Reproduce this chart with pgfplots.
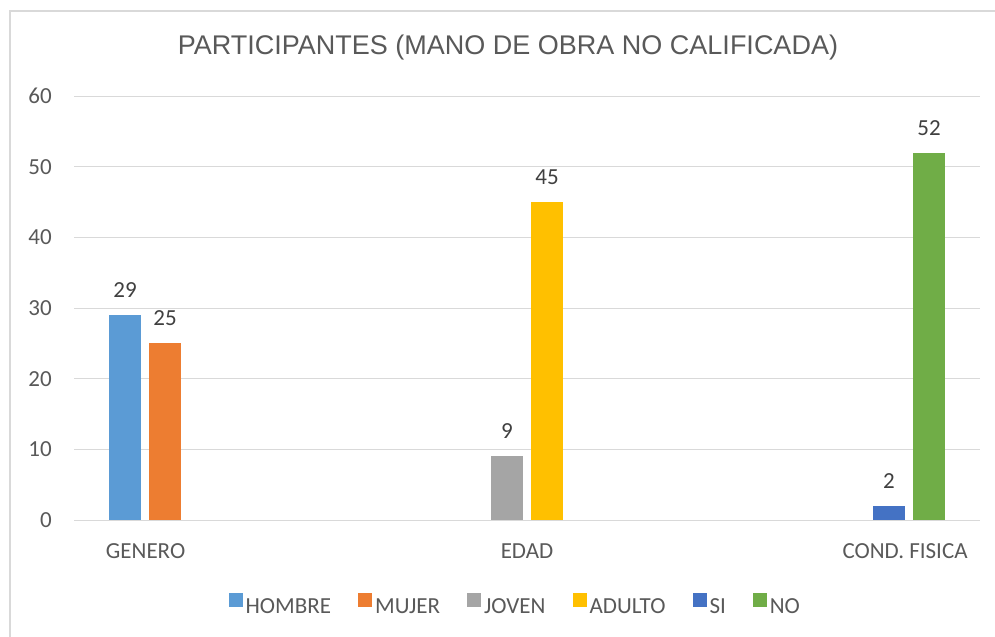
\documentclass[border=0pt]{standalone}
\usepackage{fontspec}
\setmainfont{Carlito}
\newfontfamily\titlefont{Liberation Sans}
\usepackage{pgfplots}
\pgfplotsset{compat=1.18}
\definecolor{cHom}{HTML}{5B9BD5}
\definecolor{cMuj}{HTML}{ED7D31}
\definecolor{cJov}{HTML}{A5A5A5}
\definecolor{cAdu}{HTML}{FFC000}
\definecolor{cSi}{HTML}{4472C4}
\definecolor{cNo}{HTML}{70AD47}
\definecolor{gridc}{HTML}{D9D9D9}
\definecolor{tickc}{HTML}{595959}
\definecolor{labc}{HTML}{404040}
\newcommand{\tf}{\fontsize{23bp}{27bp}\selectfont}
\begin{document}
\begin{tikzpicture}
\path[use as bounding box] (0bp,0bp) rectangle (995bp,637bp);
\draw[color=gridc, line width=1.5bp] (10bp,-10bp) -- (10bp,626bp) -- (1010bp,626bp);
\begin{axis}[
  at={(74bp,117bp)}, anchor=south west,
  scale only axis, width=906bp, height=424bp,
  xmin=-0.5, xmax=2.5, ymin=0, ymax=60,
  ytick={0,10,...,60},
  xtick={-0.263,1,2.252},
  xticklabels={GENERO,EDAD,COND. FISICA},
  major tick length=0pt,
  axis line style={draw=none},
  ymajorgrids, xmajorgrids=false,
  grid style={color=gridc, line width=1bp},
  /pgf/number format/assume math mode=true,
  tick label style={font=\tf, text=tickc},
  yticklabel style={anchor=east, inner sep=0pt, xshift=-22bp},
  xticklabel style={anchor=base, inner sep=0pt, yshift=-38bp},
  title={\titlefont\fontsize{27bp}{30bp}\selectfont PARTICIPANTES (MANO DE OBRA NO CALIFICADA)},
  title style={at={(axis description cs:0.479,1)}, anchor=base, yshift=36bp, text=tickc, inner sep=0pt},
  ybar, bar width=32bp,
  nodes near coords,
  nodes near coords style={font=\tf, text=labc, anchor=base, yshift=17.5bp, inner sep=0pt},
  legend style={draw=none, fill=none, at={(axis description cs:0.486,-0.198)}, anchor=center,
    font=\tf, text=tickc, nodes={inner sep=0pt},
    /tikz/every even column/.append style={column sep=27bp},
    /tikz/every odd column/.append style={column sep=3bp}},
  legend columns=-1,
  legend image code/.code={\fill[#1] (0bp,0bp) rectangle (14bp,14bp);},
]
\addplot[fill=cHom, draw=none, bar shift=-100bp] coordinates {(0,29)};
\addlegendentry{HOMBRE}
\addplot[fill=cMuj, draw=none, bar shift=-60bp] coordinates {(0,25)};
\addlegendentry{MUJER}
\addplot[fill=cJov, draw=none, bar shift=-20bp] coordinates {(1,9)};
\addlegendentry{JOVEN}
\addplot[fill=cAdu, draw=none, bar shift=20bp] coordinates {(1,45)};
\addlegendentry{ADULTO}
\addplot[fill=cSi, draw=none, bar shift=60bp] coordinates {(2,2)};
\addlegendentry{SI}
\addplot[fill=cNo, draw=none, bar shift=100bp] coordinates {(2,52)};
\addlegendentry{NO}
\end{axis}
\end{tikzpicture}
\end{document}
